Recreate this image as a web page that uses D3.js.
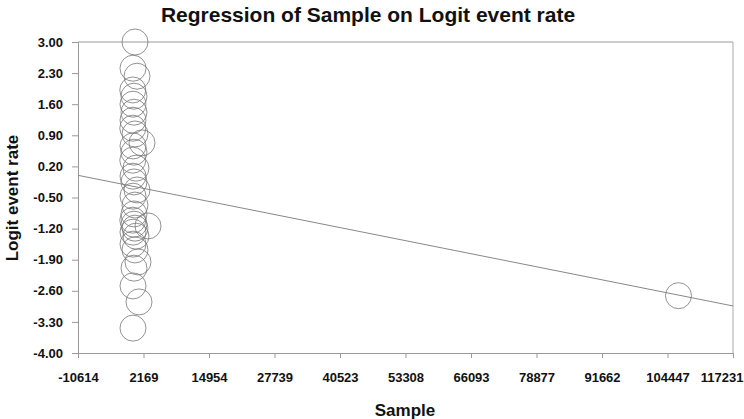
<!DOCTYPE html>
<html><head><meta charset="utf-8">
<script src="https://cdn.jsdelivr.net/npm/d3@7"></script>
<style>body{margin:0;background:#fff}svg{display:block}text{font-family:Arial,"Liberation Sans",sans-serif}</style>
</head><body><svg id="c" width="744" height="419"></svg>
<script>
const sampleSizes = [511,121,901,80,316,121,316,121,80,511,1877,121,316,80,706,121,316,901,121,511,316,80,316,511,121,3049,706,121,511,1097,316,121,1292,121,106593];
const logitRates = [3.00,2.41,2.23,1.92,1.78,1.60,1.42,1.24,1.06,0.93,0.73,0.66,0.52,0.34,0.16,-0.02,-0.15,-0.33,-0.47,-0.67,-0.87,-1.01,-1.10,-1.19,-1.28,-1.14,-1.37,-1.55,-1.68,-1.95,-2.09,-2.49,-2.85,-3.44,-2.71];
const xTickLabels = ["-10614","2169","14954","27739","40523","53308","66093","78877","91662","104447","117231"];
const yTickLabels = ["3.00","2.30","1.60","0.90","0.20","-0.50","-1.20","-1.90","-2.60","-3.30","-4.00"];
const regIntercept = -0.245;
const regSlope = -0.0000230;

const FONT='Arial,"Liberation Sans",sans-serif';
const W=744,H=419,m={l:78,r:11,t:42,b:66};
const svg=d3.select("#c");
const x=d3.scaleLinear().domain([-10614,117231]).range([m.l,W-m.r]);
const y=d3.scaleLinear().domain([-4,3]).range([H-m.b,m.t]);
const xTicks=xTickLabels.map(Number), yTicks=yTickLabels.map(Number);

svg.append("line").attr("x1",m.l).attr("x2",W-m.r).attr("y1",m.t).attr("y2",m.t).attr("stroke","#999");
svg.append("line").attr("x1",W-m.r).attr("x2",W-m.r).attr("y1",m.t).attr("y2",H-m.b).attr("stroke","#aaa");

const xa=svg.append("g").attr("transform",`translate(0,${H-m.b})`)
 .call(d3.axisBottom(x).tickValues(xTicks).tickFormat((d,i)=>xTickLabels[i]).tickSize(5).tickPadding(15));
const ya=svg.append("g").attr("transform",`translate(${m.l},0)`)
 .call(d3.axisLeft(y).tickValues(yTicks).tickFormat((d,i)=>yTickLabels[i]).tickSize(6).tickPadding(9));
[xa,ya].forEach(g=>{g.select(".domain").attr("stroke","#999");g.selectAll(".tick line").attr("stroke","#999");
 g.selectAll("text").attr("font-size",13).attr("font-weight","bold").attr("fill","#111").attr("font-family",FONT);});
xa.selectAll(".tick text").filter((d,i)=>i===xTicks.length-1).attr("text-anchor","end").attr("dx",10);

const xd=x.domain();
svg.append("line").attr("x1",x(xd[0])).attr("y1",y(regIntercept+regSlope*xd[0]))
 .attr("x2",x(xd[1])).attr("y2",y(regIntercept+regSlope*xd[1])).attr("stroke","#888").attr("stroke-width",1);

svg.append("g").selectAll("circle").data(sampleSizes.map((s,i)=>[s,logitRates[i]])).join("circle")
 .attr("cx",d=>x(d[0])).attr("cy",d=>y(d[1])).attr("r",13)
 .attr("fill","none").attr("stroke","#777").attr("stroke-width",0.8);

svg.append("text").attr("x",368).attr("y",22).attr("text-anchor","middle").attr("font-size",21).attr("font-weight","bold").attr("fill","#111").attr("font-family",FONT)
 .text("Regression of Sample on Logit event rate");
svg.append("text").attr("x",405).attr("y",416).attr("text-anchor","middle").attr("font-size",17).attr("font-weight","bold").attr("fill","#111").attr("font-family",FONT).text("Sample");
svg.append("text").attr("transform","translate(18,198) rotate(-90)").attr("text-anchor","middle").attr("font-size",17).attr("font-weight","bold").attr("fill","#111").attr("font-family",FONT).text("Logit event rate");
</script></body></html>
